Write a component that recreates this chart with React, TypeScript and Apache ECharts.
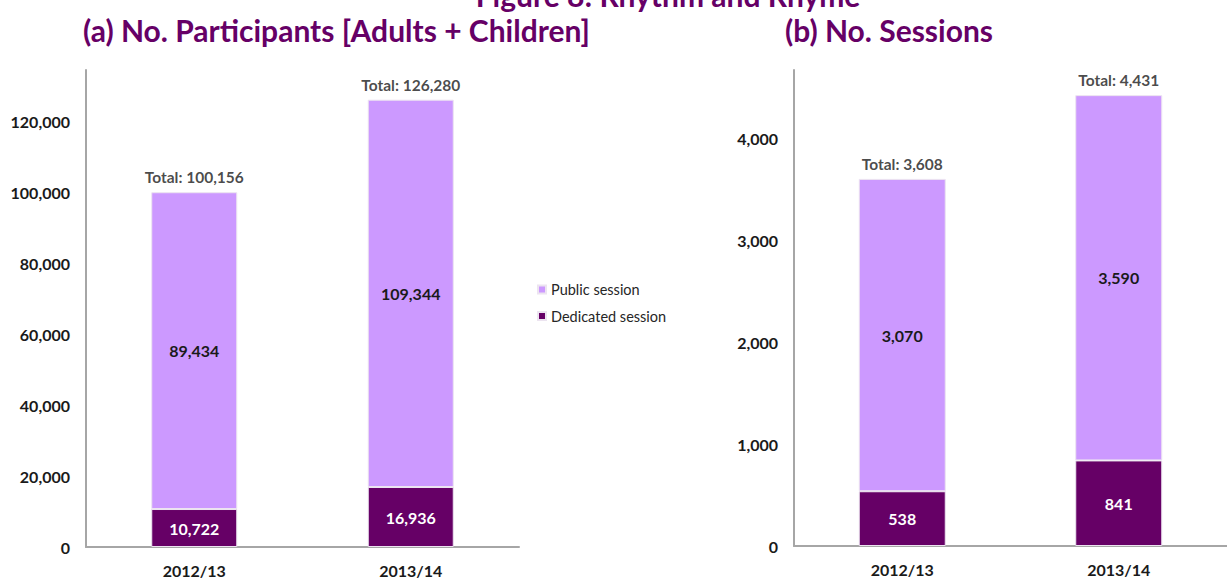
import React, { useEffect, useRef } from "react";
import * as echarts from "echarts";

const categories = ["2012/13", "2013/14"];
const participantsDedicated = [10722, 16936];
const participantsPublic = [89434, 109344];
const participantsTotal = [100156, 126280];
const sessionsDedicated = [538, 841];
const sessionsPublic = [3070, 3590];
const sessionsTotal = [3608, 4431];

const PUBLIC = "#CC99FF";
const DEDICATED = "#660066";
const TITLE = "#660066";
const FONT = "Lato, 'Open Sans', sans-serif";

const fmt = (v: number) => v.toLocaleString("en-US");

export default function App() {
  const ref = useRef<HTMLDivElement>(null);
  useEffect(() => {
    if (!ref.current) return;
    const chart = echarts.init(ref.current, null, { renderer: "svg" });
    const yAxisBase = (gridIndex: number, max: number, interval: number) => ({
      type: "value",
      gridIndex,
      min: 0,
      max,
      interval,
      splitLine: { show: false },
      axisTick: { show: false },
      axisLine: { show: true, lineStyle: { color: "#a6a6a6", width: 2 } },
      axisLabel: {
        fontFamily: FONT,
        fontWeight: "bold",
        fontSize: 16,
        color: "#1a1a1a",
        margin: 16,
        formatter: (v: number) => (v % interval === 0 ? fmt(v) : ""),
      },
    });
    const xAxisBase = (gridIndex: number) => ({
      type: "category",
      gridIndex,
      data: categories,
      axisTick: { show: false },
      axisLine: { show: true, lineStyle: { color: "#a6a6a6", width: 2 } },
      axisLabel: {
        fontFamily: FONT,
        fontWeight: "bold",
        fontSize: 16,
        color: "#1a1a1a",
        margin: 15,
      },
    });
    const barSeries = (
      gridIndex: number,
      stack: string,
      ded: number[],
      pub: number[],
      tot: number[],
      barWidth: number
    ) => [
      {
        name: "Dedicated session",
        type: "bar",
        stack,
        xAxisIndex: gridIndex,
        yAxisIndex: gridIndex,
        data: ded,
        barWidth,
        itemStyle: { color: DEDICATED, borderColor: "#ece4f0", borderWidth: 1 },
        label: {
          show: true,
          position: "inside",
          formatter: (p: any) => fmt(p.value),
          fontFamily: FONT,
          fontWeight: "bold",
          fontSize: 16,
          color: "#ffffff",
        },
      },
      {
        name: "Public session",
        type: "bar",
        stack,
        xAxisIndex: gridIndex,
        yAxisIndex: gridIndex,
        data: pub,
        barWidth,
        itemStyle: { color: PUBLIC, borderColor: "#ece4f0", borderWidth: 1 },
        label: {
          show: true,
          position: "inside",
          formatter: (p: any) => fmt(p.value),
          fontFamily: FONT,
          fontWeight: "bold",
          fontSize: 16,
          color: "#1a1a1a",
        },
      },
      {
        name: "Total",
        type: "scatter",
        xAxisIndex: gridIndex,
        yAxisIndex: gridIndex,
        data: tot,
        symbolSize: 0,
        silent: true,
        label: {
          show: true,
          position: "top",
          distance: 7,
          formatter: (p: any) => "Total: " + fmt(p.value),
          fontFamily: FONT,
          fontWeight: "bold",
          fontSize: 15.5,
          color: "#1a1a1a",
        },
      },
    ];
    chart.setOption({
      animation: false,
      textStyle: { fontFamily: FONT },
      title: [
        {
          text: "Figure 8: Rhythm and Rhyme",
          left: 663,
          textAlign: "center",
          top: -25,
          textStyle: { fontFamily: FONT, fontWeight: "bold", fontSize: 30, color: TITLE },
        },
        {
          text: "(a) No. Participants [Adults + Children]",
          left: 78,
          top: 10,
          textStyle: { fontFamily: FONT, fontWeight: "bold", fontSize: 30, color: TITLE },
        },
        {
          text: "(b) No. Sessions",
          left: 780,
          top: 10,
          textStyle: { fontFamily: FONT, fontWeight: "bold", fontSize: 30, color: TITLE },
        },
      ],
      legend: {
        data: ["Public session", "Dedicated session"],
        orient: "vertical",
        left: 532,
        top: 277,
        itemWidth: 8,
        itemHeight: 8,
        itemGap: 11.5,
        icon: "rect",
        textStyle: { fontFamily: FONT, fontSize: 14.5, color: "#262626" },
      },
      grid: [
        { left: 86, top: 70, width: 433, height: 477 },
        { left: 794, top: 70, width: 438, height: 476 },
      ],
      xAxis: [xAxisBase(0), xAxisBase(1)],
      yAxis: [yAxisBase(0, 134660, 20000), yAxisBase(1, 4678, 1000)],
      series: [
        ...barSeries(0, "a", participantsDedicated, participantsPublic, participantsTotal, 86),
        ...barSeries(1, "b", sessionsDedicated, sessionsPublic, sessionsTotal, 87),
      ],
    });
    return () => chart.dispose();
  }, []);
  return (
    <div
      ref={ref}
      style={{ position: "fixed", left: 0, top: 0, width: 1227, height: 578, background: "#fff" }}
    />
  );
}
